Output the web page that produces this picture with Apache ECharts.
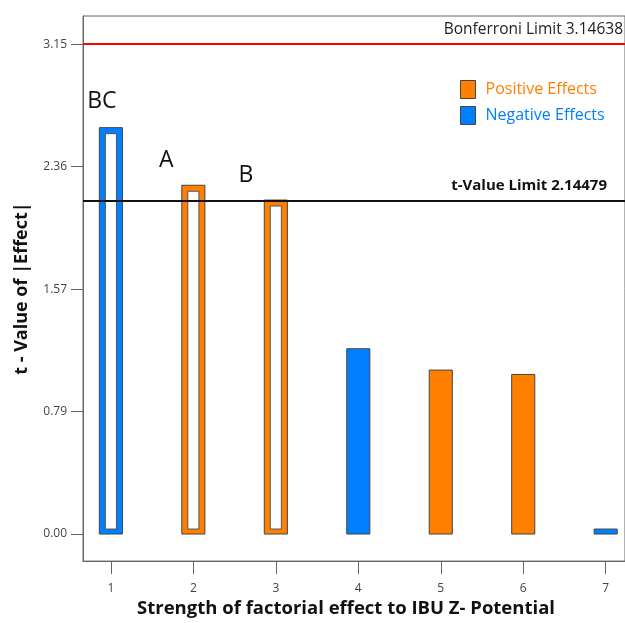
<!DOCTYPE html>
<html>
<head>
<meta charset="utf-8">
<script src="https://cdn.jsdelivr.net/npm/echarts@6/dist/echarts.min.js"></script>
<style>html,body{margin:0;padding:0;background:#fff}#chart{width:625px;height:623px}</style>
</head>
<body>
<div id="chart"></div>
<script>
// ---- data ----
const categories = [1, 2, 3, 4, 5, 6, 7];
const effectLabels = ['BC', 'A', 'B', '', '', '', ''];
const positiveValues = [null, 2.24, 2.145, null, 1.053, 1.025, null];
const negativeValues = [2.61, null, null, 1.19, null, null, 0.032];
const yTickValues = [0, 0.7866, 1.5732, 2.3598, 3.1464];
const yTickLabels = ['0.00', '0.79', '1.57', '2.36', '3.15'];
const bonferroniLimit = 3.14638;
const tValueLimit = 2.14479;

// ---- styling / layout config ----
const ORANGE = '#FF8000';
const BLUE = '#0080FF';
const FONT = 'Open Sans';
const labelShift = {BC: [-9, -26], A: [-27, -25], B: [-30, -25]};

function buildData(values) {
  const out = [];
  values.forEach((v, i) => { if (v !== null) out.push([categories[i], v, i]); });
  return out;
}

function makeRender(color) {
  return function (params, api) {
    const x = api.value(0), v = api.value(1), idx = api.value(2);
    const top = api.coord([x, v]);
    const base = api.coord([x, 0]);
    const w = api.size([1, 0])[0] * 0.28;
    const h = base[1] - top[1];
    const children = [{
      type: 'rect',
      shape: {x: top[0] - w / 2, y: top[1], width: w, height: h},
      style: {fill: color, stroke: '#444', lineWidth: 1}
    }];
    const lab = effectLabels[idx];
    if (lab) {
      children.push({
        type: 'rect',
        shape: {x: top[0] - w / 2 + 6, y: top[1] + 6, width: w - 12, height: h - 11},
        style: {fill: '#fff', stroke: '#555', lineWidth: 1}
      });
      const s = labelShift[lab] || [0, -28];
      children.push({
        type: 'text',
        x: top[0] + s[0], y: top[1] + s[1],
        style: {text: lab, fontSize: 23, fontFamily: FONT, fill: '#111', align: 'center', verticalAlign: 'middle'}
      });
    }
    return {type: 'group', children};
  };
}

const chart = echarts.init(document.getElementById('chart'));
chart.setOption({
  animation: false,
  backgroundColor: '#fff',
  grid: {left: 83, top: 16, right: -2, bottom: 57, show: true, borderColor: '#666', borderWidth: 1, backgroundColor: 'transparent'},
  legend: {
    orient: 'vertical', left: 455, top: 75, icon: 'rect', itemWidth: 15, itemHeight: 18, itemGap: 7,
    itemStyle: {borderColor: '#444', borderWidth: 1},
    textStyle: {fontSize: 16, fontFamily: FONT, padding: [0, 0, 0, 5]},
    data: [
      {name: 'Positive Effects', textStyle: {color: ORANGE}},
      {name: 'Negative Effects', textStyle: {color: BLUE}}
    ]
  },
  xAxis: {
    type: 'value', min: 0.662, max: 7.234,
    splitLine: {show: false},
    axisLine: {show: true, onZero: false, lineStyle: {color: '#666', width: 1}},
    axisTick: {show: true, length: 13, lineStyle: {color: '#666'}, customValues: categories},
    axisLabel: {color: '#444', fontSize: 12, fontFamily: FONT, margin: 21, customValues: categories},
    name: 'Strength of factorial effect to IBU Z- Potential',
    nameLocation: 'middle', nameGap: 34,
    nameTextStyle: {fontSize: 18.5, fontWeight: 'bold', fontFamily: FONT, color: '#111', padding: [0, 16, 0, 0]}
  },
  yAxis: {
    type: 'value', min: -0.1738, max: 3.327,
    splitLine: {show: false},
    axisLine: {show: true, lineStyle: {color: '#666', width: 1}},
    axisTick: {show: true, length: 12, lineStyle: {color: '#666'}, customValues: yTickValues},
    axisLabel: {
      color: '#444', fontSize: 12, fontFamily: FONT, margin: 16, customValues: yTickValues,
      formatter: function (v) { const i = yTickValues.indexOf(v); return i >= 0 ? yTickLabels[i] : ''; }
    },
    name: 't - Value of |Effect|',
    nameLocation: 'middle', nameGap: 52,
    nameTextStyle: {fontSize: 18, fontWeight: 'bold', fontFamily: FONT, color: '#111'}
  },
  series: [
    {
      name: 'Positive Effects', type: 'custom', itemStyle: {color: ORANGE},
      renderItem: makeRender(ORANGE), data: buildData(positiveValues), clip: false
    },
    {
      name: 'Negative Effects', type: 'custom', itemStyle: {color: BLUE},
      renderItem: makeRender(BLUE), data: buildData(negativeValues), clip: false
    },
    {
      name: 'limits', type: 'line', data: [], silent: true,
      markLine: {
        silent: true, symbol: 'none',
        data: [
          {yAxis: bonferroniLimit, lineStyle: {color: '#FF0000', width: 2, type: 'solid'},
           label: {show: true, position: 'insideEndTop', formatter: 'Bonferroni Limit ' + bonferroniLimit,
                   color: '#222', fontSize: 15.5, fontFamily: FONT, distance: [2, 6]}},
          {yAxis: tValueLimit, lineStyle: {color: '#111', width: 2, type: 'solid'},
           label: {show: true, position: 'insideEndTop', formatter: 't-Value Limit ' + tValueLimit,
                   color: '#111', fontSize: 15, fontWeight: 'bold', fontFamily: FONT, distance: [18, 8]}}
        ]
      }
    }
  ]
});
</script>
</body>
</html>
